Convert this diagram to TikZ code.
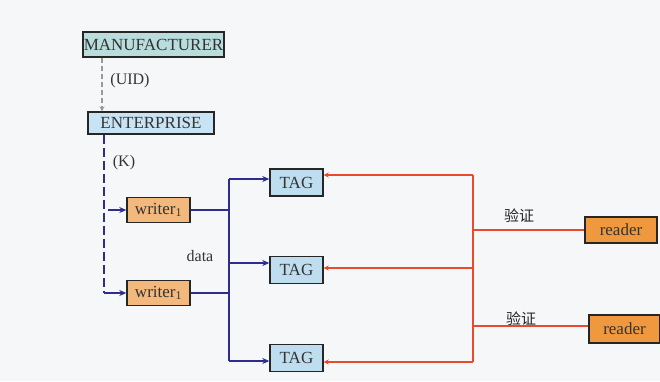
\documentclass[tikz,border=0pt]{standalone}
\usepackage{fontspec}
\setmainfont{Liberation Serif}
\newfontfamily\cjk{Noto Sans CJK SC}
\usetikzlibrary{arrows.meta}
\definecolor{bgc}{HTML}{F5F7F9}
\definecolor{tealf}{HTML}{B9DCDC}
\definecolor{entf}{HTML}{C8E3F3}
\definecolor{tagf}{HTML}{BEDDEE}
\definecolor{wrf}{HTML}{F3B87C}
\definecolor{rdf}{HTML}{F0983E}
\definecolor{navy}{HTML}{2E2C8C}
\definecolor{redl}{HTML}{EA4A2C}
\definecolor{greyl}{HTML}{9A9A9A}
\tikzset{
  box/.style={draw=black!85, line width=1.4pt, inner sep=0pt, font=\fontsize{17}{19}\selectfont, text=black!80},
  blue/.style={draw=navy, line width=1.8pt},
  redw/.style={draw=redl, line width=1.4pt},
  barr/.style={-{Stealth[length=7pt,width=6pt]}},
  rarr/.style={-{Stealth[length=5pt,width=5pt]}},
  lbl/.style={font=\fontsize{16}{18}\selectfont, text=black!80},
  cjkl/.style={font=\cjk\fontsize{15}{17}\selectfont, text=black!85},
}
\begin{document}
\begin{tikzpicture}[x=1pt,y=-1pt]
\useasboundingbox (0,0) rectangle (660,381);
\fill[bgc] (0,0) rectangle (660,381);
% nodes
\node[box, fill=tealf, minimum width=141pt, minimum height=25pt] (man) at (153.5,44.5) {MANUFACTURER};
\node[box, fill=entf, minimum width=126pt, minimum height=22pt] (ent) at (151,123) {ENTERPRISE};
\node[box, fill=wrf, minimum width=63pt, minimum height=25pt] (w1) at (158.5,210) {writer\textsubscript{1}};
\node[box, fill=wrf, minimum width=63pt, minimum height=25pt] (w2) at (158.5,293) {writer\textsubscript{1}};
\node[box, fill=tagf, minimum width=53pt, minimum height=27pt] (t1) at (296.5,182.5) {TAG};
\node[box, fill=tagf, minimum width=53pt, minimum height=27pt] (t2) at (296.5,270) {TAG};
\node[box, fill=tagf, minimum width=53pt, minimum height=27pt] (t3) at (296.5,358) {TAG};
\node[box, fill=rdf, minimum width=72pt, minimum height=26pt] (r1) at (621,230) {reader};
\node[box, fill=rdf, minimum width=71pt, minimum height=28pt] (r2) at (624.5,329) {reader};
% labels
\node[lbl] (luid) at (130,81) {(UID)};
\node[lbl] (lk) at (124,163) {(K)};
\node[lbl] (ldata) at (200,256) {data};
\node[cjkl] (lv1) at (519,216) {验证};
\node[cjkl] (lv2) at (521,319) {验证};
% coordinates
\coordinate (e1) at (102,0);
\coordinate (kx) at (108,210);
\coordinate (kc) at (104,293);
\coordinate (bx) at (229,0);
\coordinate (rx) at (473,0);
\coordinate (ta1) at (0,179);
\coordinate (ta2) at (0,263);
\coordinate (ta3) at (0,361);
\coordinate (tr1) at (0,175);
\coordinate (tr2) at (0,268);
\coordinate (tr3) at (0,362);
% connectors
\draw[greyl, line width=1.3pt, dash pattern=on 5pt off 3pt, -{Stealth[length=5pt,width=5pt]}] (man.south -| e1) -- (e1 |- ent.north);
\draw[navy, line width=1.8pt, dash pattern=on 9pt off 4pt] (ent.south -| kc) -- (kc);
\draw[blue, barr] (kx) -- (w1.west);
\draw[blue, barr] (kc) -- (w2.west);
\draw[blue] (w1.east) -- (w1.east -| bx);
\draw[blue] (w2.east) -- (w2.east -| bx);
\draw[blue] (bx |- ta1) -- (bx |- ta3);
\draw[blue, barr] (bx |- ta1) -- (t1.west |- ta1);
\draw[blue, barr] (bx |- ta2) -- (t2.west |- ta2);
\draw[blue, barr] (bx |- ta3) -- (t3.west |- ta3);
% red
\draw[redw] (rx |- tr1) -- (rx |- tr3);
\draw[redw, rarr] (rx |- tr1) -- (t1.east |- tr1);
\draw[redw, rarr] (rx |- tr2) -- (t2.east |- tr2);
\draw[redw, rarr] (rx |- tr3) -- (t3.east |- tr3);
\draw[redw] (r1.west) -- (r1.west -| rx);
\draw[redw] ([yshift=3pt]r2.west) -- ([yshift=3pt]r2.west -| rx);
\end{tikzpicture}
\end{document}
